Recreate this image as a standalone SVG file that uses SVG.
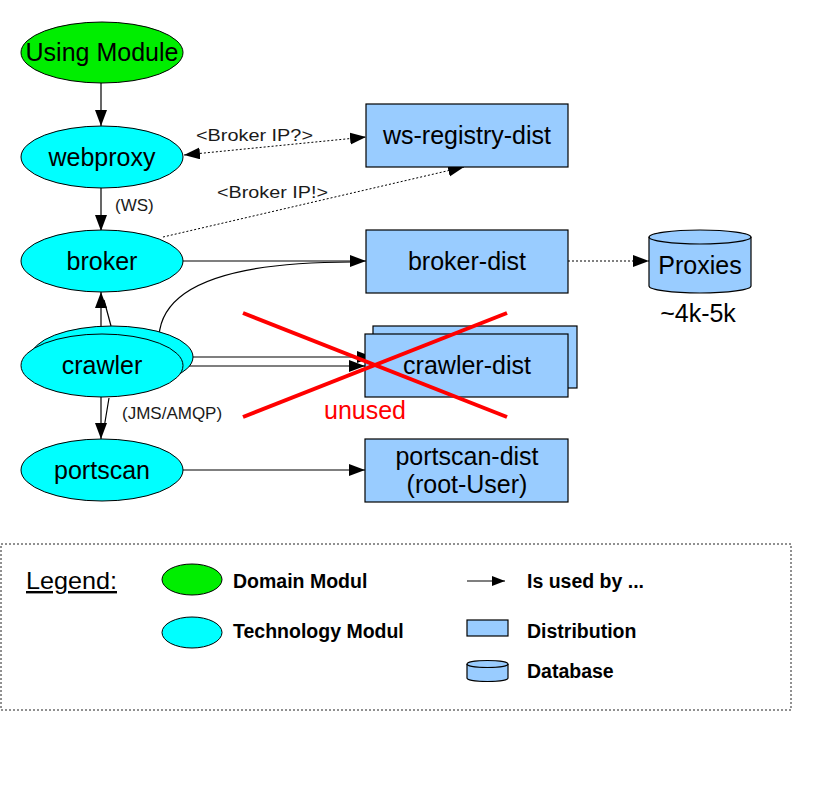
<svg xmlns="http://www.w3.org/2000/svg" width="825" height="794" viewBox="0 0 825 794">
<defs>
<marker id="ah" markerUnits="userSpaceOnUse" markerWidth="17" markerHeight="13" refX="16" refY="6" orient="auto-start-reverse">
<path d="M0,0 L16,6 L0,12 z" fill="#000"/>
</marker>
<marker id="ahs" markerUnits="userSpaceOnUse" markerWidth="14" markerHeight="11" refX="13" refY="5" orient="auto">
<path d="M0,0 L13,5 L0,10 z" fill="#000"/>
</marker>
<style>
.mod{fill:#00ffff;stroke:#000;stroke-width:1}
.dom{fill:#00ee00;stroke:#000;stroke-width:1}
.dist{fill:#99ccff;stroke:#000;stroke-width:1.2}
.t{font-family:"Liberation Sans",Arial,sans-serif;font-size:25px;fill:#000;text-anchor:middle}
.lbl{font-family:"Liberation Sans",Arial,sans-serif;font-size:17px;fill:#1a1a1a}
.leg{font-family:"Liberation Sans",Arial,sans-serif;font-size:19.5px;font-weight:bold;fill:#000}
.c{fill:none;stroke:#000;stroke-width:1.2}
.dot{fill:none;stroke:#000;stroke-width:1;stroke-dasharray:2,2}
</style>
</defs>
<rect width="825" height="794" fill="#fff"/>

<g id="connectors">
<line class="c" x1="101" y1="83" x2="101" y2="126" marker-end="url(#ah)"/>
<line class="dot" x1="184" y1="155" x2="366" y2="137" marker-start="url(#ah)" marker-end="url(#ah)"/>
<line class="c" x1="101" y1="188" x2="101" y2="231" marker-end="url(#ah)"/>
<line class="dot" x1="163" y1="237" x2="464" y2="167" stroke="#444" marker-end="url(#ah)"/>
<line class="c" x1="183" y1="261" x2="366" y2="261" marker-end="url(#ah)"/>
<path class="c" d="M159,336 C162,292 215,262 352,262" stroke-width="1"/>
<line class="dot" x1="568" y1="261" x2="649" y2="261" marker-end="url(#ah)"/>
<line class="c" x1="101" y1="334" x2="101" y2="292" marker-end="url(#ah)"/>
<line class="c" x1="111" y1="326" x2="104" y2="300" stroke-width="0.8" stroke="#333"/>
<line class="c" x1="193" y1="357" x2="373" y2="357" marker-end="url(#ah)"/>
<line class="c" x1="183" y1="366" x2="365" y2="366" marker-end="url(#ah)"/>
<line class="c" x1="101" y1="397" x2="101" y2="439" marker-end="url(#ah)"/>
<line class="c" x1="109" y1="398" x2="104" y2="428" stroke-width="0.8" stroke="#333"/>
<line class="c" x1="183" y1="470" x2="365" y2="470" marker-end="url(#ah)"/>
<text class="lbl" x="196" y="141" textLength="117" lengthAdjust="spacingAndGlyphs">&lt;Broker IP?&gt;</text>
<text class="lbl" x="115" y="211">(WS)</text>
<text class="lbl" x="217" y="198" textLength="111" lengthAdjust="spacingAndGlyphs">&lt;Broker IP!&gt;</text>
<text class="lbl" x="122" y="419">(JMS/AMQP)</text>
</g>

<g id="using-module">
<ellipse class="dom" cx="102" cy="52.5" rx="81" ry="30.5"/>
<text class="t" x="102" y="61">Using Module</text>
</g>
<g id="webproxy">
<ellipse class="mod" cx="102" cy="157" rx="81" ry="31"/>
<text class="t" x="102" y="166">webproxy</text>
</g>
<g id="broker">
<ellipse class="mod" cx="102" cy="261" rx="81" ry="31"/>
<text class="t" x="102" y="270">broker</text>
</g>
<g id="crawler">
<ellipse class="mod" cx="112" cy="357" rx="81" ry="31"/>
<ellipse class="mod" cx="102" cy="365.5" rx="81" ry="31.5"/>
<text class="t" x="102" y="374">crawler</text>
</g>
<g id="portscan">
<ellipse class="mod" cx="102" cy="470" rx="81" ry="31"/>
<text class="t" x="102" y="479">portscan</text>
</g>

<g id="ws-registry-dist">
<rect class="dist" x="366" y="104" width="202" height="63"/>
<text class="t" x="467" y="144">ws-registry-dist</text>
</g>
<g id="broker-dist">
<rect class="dist" x="366" y="230" width="202" height="63"/>
<text class="t" x="467" y="270">broker-dist</text>
</g>
<g id="proxies">
<path class="dist" d="M649,237 L649,286 A51,7 0 0 0 751,286 L751,237 A51,7 0 0 0 649,237 Z"/>
<path d="M649,237 A51,7 0 0 0 751,237" fill="none" stroke="#000" stroke-width="1.2"/>
<text class="t" x="700" y="274">Proxies</text>
<text class="t" x="698" y="322">~4k-5k</text>
</g>
<g id="crawler-dist">
<rect class="dist" x="373" y="326" width="204" height="62"/>
<rect class="dist" x="365" y="334" width="203" height="63"/>
<text class="t" x="467" y="374">crawler-dist</text>
</g>
<g id="portscan-dist">
<rect class="dist" x="365" y="439" width="203" height="63"/>
<text class="t" x="467" y="465">portscan-dist</text>
<text class="t" x="467" y="493">(root-User)</text>
</g>

<g id="unused-mark">
<line x1="243" y1="313" x2="507" y2="417" stroke="#ff0000" stroke-width="4"/>
<line x1="243" y1="417" x2="507" y2="313" stroke="#ff0000" stroke-width="4"/>
<text x="365" y="419" font-family="Liberation Sans, Arial, sans-serif" font-size="25" fill="#ff0000" text-anchor="middle">unused</text>
</g>

<g id="legend">
<rect x="1" y="544" width="790" height="166" fill="none" stroke="#222" stroke-width="1" stroke-dasharray="2,2"/>
<text x="26" y="589" font-family="Liberation Sans, Arial, sans-serif" font-size="24" fill="#000" text-decoration="underline" textLength="91" lengthAdjust="spacingAndGlyphs">Legend:</text>
<ellipse class="dom" cx="192" cy="579.5" rx="30" ry="15.5"/>
<text class="leg" x="233" y="588">Domain Modul</text>
<ellipse class="mod" cx="192" cy="632.5" rx="30" ry="15.5"/>
<text class="leg" x="233" y="638">Technology Modul</text>
<line x1="467" y1="581" x2="505" y2="581" stroke="#000" stroke-width="1.2" marker-end="url(#ahs)"/>
<text class="leg" x="527" y="588">Is used by ...</text>
<rect class="dist" x="467" y="620" width="41" height="16"/>
<text class="leg" x="527" y="638">Distribution</text>
<path class="dist" d="M467,664 L467,678 A20.5,3.5 0 0 0 508,678 L508,664 A20.5,3.5 0 0 0 467,664 Z"/>
<path d="M467,664 A20.5,3.5 0 0 0 508,664" fill="none" stroke="#000" stroke-width="1.2"/>
<text class="leg" x="527" y="678">Database</text>
</g>
</svg>
